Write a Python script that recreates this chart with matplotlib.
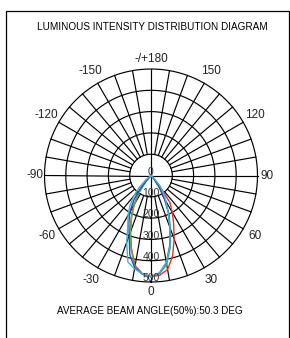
import numpy as np
import matplotlib
matplotlib.use("Agg")
import matplotlib.pyplot as plt
from matplotlib.patches import Rectangle

plt.rcParams['font.family'] = ['Liberation Sans', 'DejaVu Sans']

# gamma angles (deg), 0 = straight down, + to the right
angles = [-55, -50, -45, -40, -35, -30, -25, -20, -15, -10, -5, 0,
          5, 10, 15, 20, 25, 30, 35, 40, 45, 50, 55]

red = [0, 0, 0, 45, 100, 165, 220, 280, 355, 430, 462, 475,
       470, 448, 392, 318, 252, 200, 155, 60, 10, 0, 0]
green = [0, 0, 0, 35, 95, 155, 215, 285, 360, 435, 465, 475,
         462, 425, 350, 265, 200, 135, 70, 20, 0, 0, 0]
blue = [0, 0, 15, 75, 140, 200, 245, 300, 385, 440, 465, 475,
        460, 415, 340, 260, 195, 125, 65, 20, 0, 0, 0]
cyan = [0, 30, 75, 125, 172, 215, 258, 333, 420, 445, 463, 475,
        458, 415, 345, 260, 190, 140, 105, 70, 25, 0, 0]

series = [(red, "#e8302c"), (green, "#5cb040"), (blue, "#3048c0"), (cyan, "#3cb4dc")]

rings = [100, 200, 300, 400, 500]
angle_labels = [0, 30, 60, 90, 120, 150, 180, -150, -120, -90, -60, -30]
angle_texts = ["0", "30", "60", "90", "120", "150", "-/+180", "-150", "-120", "-90", "-60", "-30"]

title = "LUMINOUS INTENSITY DISTRIBUTION DIAGRAM"
footer = "AVERAGE BEAM ANGLE(50%):50.3 DEG"


def plot():
    fig = plt.figure(figsize=(2.9, 3.38), dpi=100)
    fig.patches.append(Rectangle((5.5 / 290, -0.1), 283 / 290, 1 - 10.5 / 338 + 0.1,
                                 transform=fig.transFigure, fill=False,
                                 edgecolor="black", linewidth=0.9))

    ax = fig.add_axes([44.5 / 290, 1 - 282 / 338, 213 / 290, 213 / 338], projection="polar")
    ax.set_theta_zero_location("S")
    ax.set_theta_direction(1)
    ax.set_ylim(0, 500)
    ax.grid(False)
    ax.set_xticks([])
    ax.set_yticks([])
    ax.spines["polar"].set_visible(False)
    ax.patch.set_alpha(0)

    t = np.linspace(0, 2 * np.pi, 361)
    for r in rings:
        ax.plot(t, np.full_like(t, r), color="black", lw=0.85, clip_on=False)
    for a in range(0, 360, 10):
        r0 = 0 if a % 90 == 0 else rings[0]
        th = np.radians(a)
        ax.plot([th, th], [r0, rings[-1]], color="black", lw=0.85, clip_on=False)

    th = np.radians(angles)
    for vals, col in series:
        ax.plot(th, vals, color=col, lw=1.0, clip_on=False)

    ax.text(0, 5, "0", ha="center", va="bottom", fontsize=7.5, color="#333333")
    for r in rings:
        ax.text(0, r - 17, str(r), ha="center", va="center", fontsize=7.5, color="#333333")

    for a, s in zip(angle_labels, angle_texts):
        rr = 545 if a % 90 == 0 else 565
        ax.text(np.radians(a), rr, s, ha="center", va="center", fontsize=8.5, color="#222222")

    fig.text(152 / 290, 1 - 27 / 338, title, ha="center", va="center", fontsize=7.2)
    fig.text(150 / 290, 1 - 311 / 338, footer, ha="center", va="center", fontsize=7.1)

    fig.savefig("out.png", dpi=100)


if __name__ == "__main__":
    plot()
